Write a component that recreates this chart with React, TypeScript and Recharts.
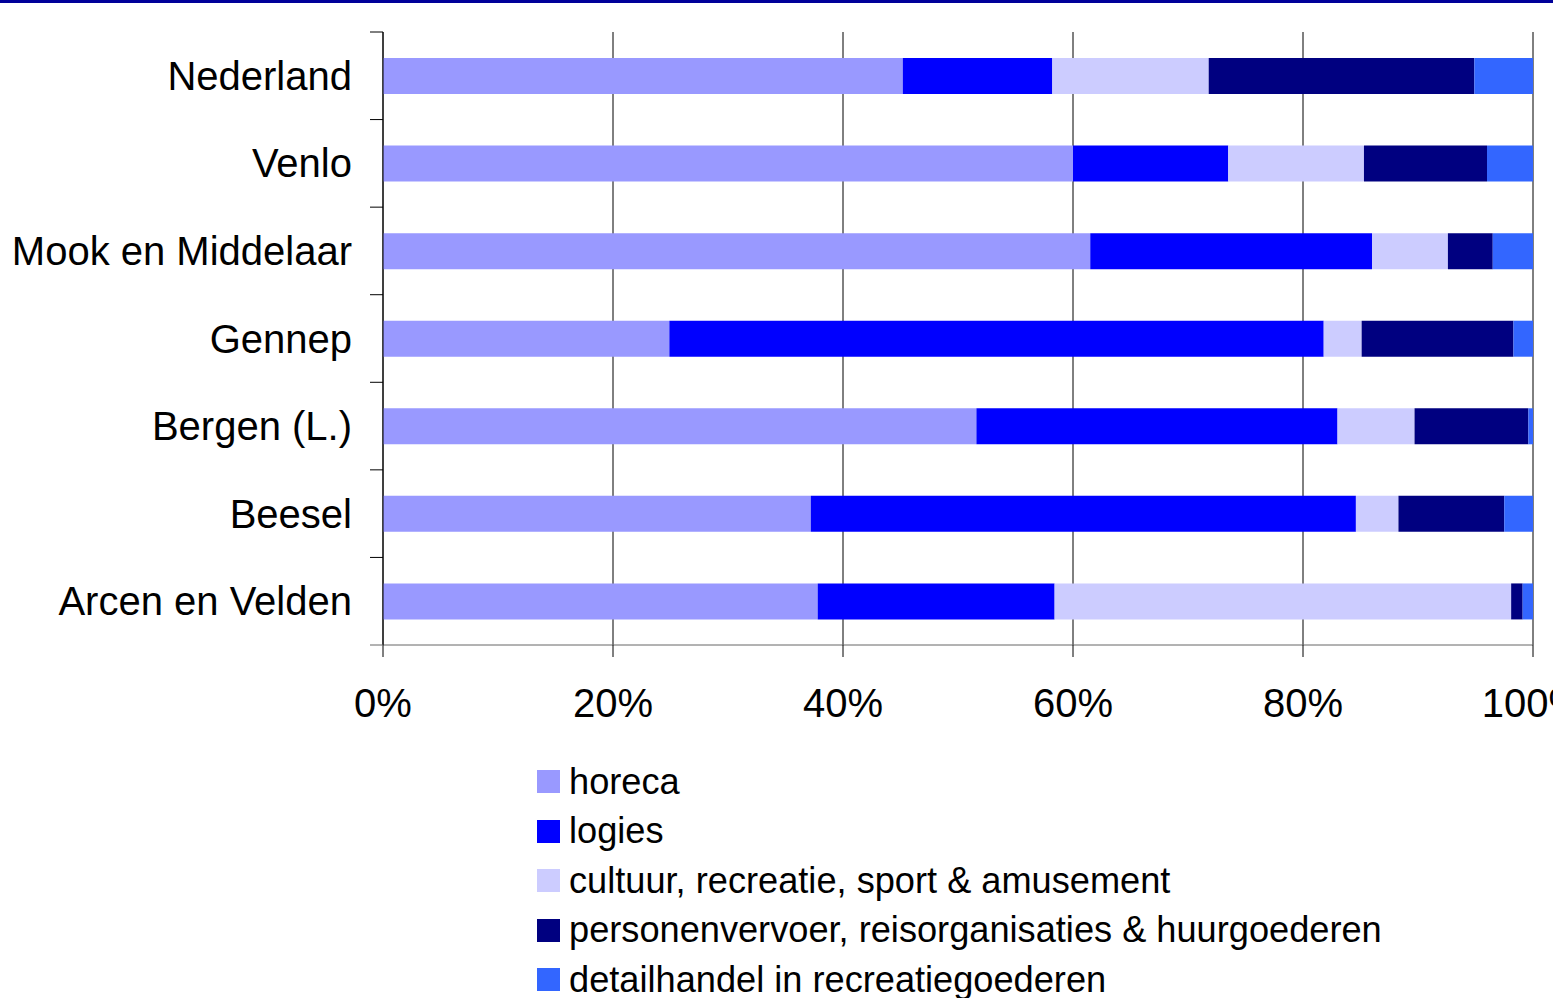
import { Bar, BarChart, CartesianGrid, XAxis, YAxis } from "recharts";

const regions = [
  "Nederland",
  "Venlo",
  "Mook en Middelaar",
  "Gennep",
  "Bergen (L.)",
  "Beesel",
  "Arcen en Velden",
];

const horeca = [45.2, 60.0, 61.5, 24.9, 51.6, 37.2, 37.8];
const logies = [13.0, 13.5, 24.5, 56.9, 31.4, 47.4, 20.6];
const cultuur = [13.6, 11.8, 6.6, 3.3, 6.7, 3.7, 39.7];
const vervoer = [23.1, 10.7, 3.9, 13.2, 9.9, 9.2, 1.0];
const detailhandel = [5.1, 4.0, 3.5, 1.7, 0.4, 2.5, 0.9];

const xTicks = [0, 0.2, 0.4, 0.6, 0.8, 1];

const series = [
  { key: "horeca", name: "horeca", color: "#9999FF", values: horeca },
  { key: "logies", name: "logies", color: "#0000FF", values: logies },
  { key: "cultuur", name: "cultuur, recreatie, sport & amusement", color: "#CCCCFF", values: cultuur },
  { key: "vervoer", name: "personenvervoer, reisorganisaties & huurgoederen", color: "#000080", values: vervoer },
  { key: "detail", name: "detailhandel in recreatiegoederen", color: "#3366FF", values: detailhandel },
];

const data = regions.map((name, i) => {
  const row: Record<string, string | number> = { name };
  series.forEach((s) => {
    row[s.key] = s.values[i];
  });
  return row;
});

const FONT = "'Liberation Sans', Arial, sans-serif";

function RegionTick(props: any) {
  const { x, y, payload, index, height, visibleTicksCount } = props;
  const band = height / visibleTicksCount;
  const axisX = 383;
  return (
    <g>
      <line x1={axisX - 13} x2={axisX} y1={y - band / 2} y2={y - band / 2} stroke="#000" />
      {index === visibleTicksCount - 1 && (
        <line x1={axisX - 13} x2={axisX} y1={y + band / 2} y2={y + band / 2} stroke="#666" />
      )}
      <text x={x} y={y} dy={14} textAnchor="end" fill="#000" fontSize={40} fontFamily={FONT}>
        {payload.value}
      </text>
    </g>
  );
}

function LegendList() {
  return (
    <div style={{ position: "absolute", left: 537, top: 757, fontFamily: FONT, fontSize: 36.2, color: "#000" }}>
      {series.map((s) => (
        <div key={s.key} style={{ display: "flex", alignItems: "center", height: 49.5 }}>
          <span style={{ width: 23, height: 23, background: s.color, display: "inline-block", marginRight: 9 }} />
          <span style={{ whiteSpace: "nowrap" }}>{s.name}</span>
        </div>
      ))}
    </div>
  );
}

export default function App() {
  return (
    <div style={{ position: "absolute", left: 0, top: 0, width: 1553, height: 998, background: "#fff", overflow: "hidden" }}>
      <div style={{ position: "absolute", left: 0, top: 0, width: 1553, height: 3, background: "#000099" }} />
      <BarChart
        width={1553}
        height={998}
        data={data}
        layout="vertical"
        stackOffset="expand"
        barSize={36}
        margin={{ top: 32, right: 20, left: 0, bottom: 273 }}
      >
        <CartesianGrid horizontal={false} vertical stroke="#000" />
        <XAxis
          type="number"
          domain={[0, 1]}
          ticks={xTicks}
          tickFormatter={(v: number) => `${Math.round(v * 100)}%`}
          tick={{ fill: "#000", fontSize: 40, fontFamily: FONT }}
          tickSize={12}
          tickMargin={32}
          stroke="#000"
          axisLine={{ stroke: "#666" }}
          tickLine={{ stroke: "#000" }}
          height={80}
          interval={0}
        />
        <YAxis
          type="category"
          dataKey="name"
          width={383}
          tickSize={13}
          tickMargin={18}
          tickLine={false}
          axisLine={{ stroke: "#000" }}
          tick={<RegionTick />}
          interval={0}
        />
        {series.map((s) => (
          <Bar
            key={s.key}
            dataKey={s.key}
            name={s.name}
            stackId="a"
            fill={s.color}
            isAnimationActive={false}
          />
        ))}
      </BarChart>
      <LegendList />
    </div>
  );
}
